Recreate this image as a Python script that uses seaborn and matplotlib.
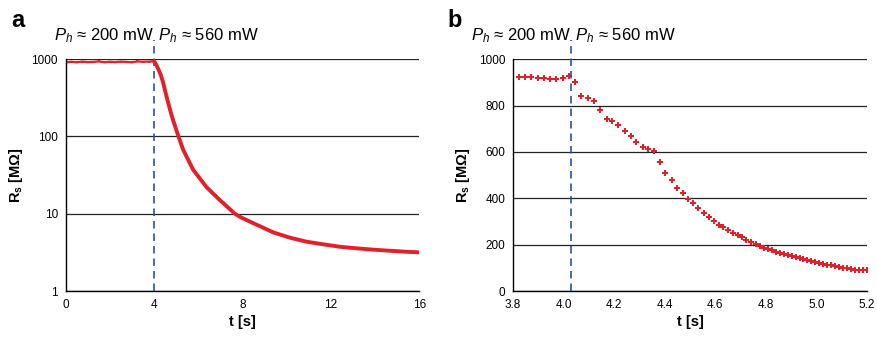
#! /usr/bin/env python3
import pandas as pd
import matplotlib
matplotlib.use("Agg")
import matplotlib.pyplot as plt
import seaborn as sns
from matplotlib.ticker import FixedLocator, FuncFormatter, NullLocator

# panel a: full heating run, log scale
t_a = [0.0, 0.25, 0.5, 0.75, 1.0, 1.25, 1.5, 1.75, 2.0, 2.25, 2.5, 2.75,
       3.0, 3.25, 3.5, 3.75, 4.0,
       4.05, 4.1, 4.2, 4.3, 4.4, 4.5, 4.6, 4.7, 4.8, 4.9, 5.0, 5.1,
       5.32, 5.77, 6.38, 6.98, 7.66, 7.89, 8.34, 9.09, 9.39, 10.15,
       10.9, 11.66, 12.41, 13.17, 13.92, 14.67, 15.43, 16.0]
r_a = [905, 925, 910, 930, 915, 920, 935, 910, 925, 915, 930, 920,
       910, 935, 925, 930, 940,
       900, 845, 735, 630, 510, 390, 300, 235, 185, 150, 123, 101,
       67, 37, 22, 15, 10, 9.1, 7.9, 6.3, 5.74, 4.9,
       4.35, 4.02, 3.74, 3.57, 3.43, 3.32, 3.22, 3.17]

# panel b: zoom around the power step, linear scale
t_b = [3.823, 3.847, 3.872, 3.898, 3.923, 3.946, 3.971, 3.997, 4.021, 4.045,
       4.070, 4.095, 4.120, 4.145, 4.171, 4.191, 4.216, 4.242, 4.265, 4.288,
       4.313, 4.334, 4.359, 4.381, 4.402, 4.428, 4.450, 4.471, 4.493, 4.512,
       4.533, 4.555, 4.574, 4.595, 4.613, 4.632, 4.650, 4.669, 4.688, 4.707,
       4.722, 4.741, 4.760, 4.777, 4.791, 4.808, 4.824, 4.840, 4.856, 4.872,
       4.887, 4.903, 4.919, 4.935, 4.948, 4.964, 4.980, 4.995, 5.009, 5.025,
       5.040, 5.056, 5.072, 5.088, 5.104, 5.119, 5.135, 5.151, 5.167, 5.183,
       5.199]
r_b = [925, 922, 921, 918, 919, 915, 915, 918, 929, 901,
       841, 831, 820, 779, 741, 733, 718, 691, 667, 644,
       622, 613, 603, 555, 510, 477, 445, 422, 398, 378,
       358, 338, 320, 303, 286, 276, 263, 251, 241, 231,
       221, 211, 203, 194, 187, 182, 175, 168, 162, 159,
       155, 150, 145, 142, 139, 132, 128, 124, 121, 116,
       113, 111, 108, 105, 100, 98, 95, 92, 92, 89,
       89]

step_a = 4.0
step_b = 4.03
xticks_a = [0, 4, 8, 12, 16]
yticks_a = [1, 10, 100, 1000]
xticks_b = [3.8, 4.0, 4.2, 4.4, 4.6, 4.8, 5.0, 5.2]
yticks_b = [0, 200, 400, 600, 800, 1000]

RED = "#e3202a"
BLUE = "#3050a0"

sns.set_style("white")
plt.rcParams["font.family"] = ["Liberation Sans", "DejaVu Sans"]
plt.rcParams["mathtext.fontset"] = "custom"
plt.rcParams["mathtext.rm"] = "Liberation Sans"
plt.rcParams["mathtext.it"] = "Liberation Sans:italic"
plt.rcParams["mathtext.bf"] = "Liberation Sans:bold"
for key in ["text.color", "axes.labelcolor", "xtick.color", "ytick.color"]:
    plt.rcParams[key] = "black"

fig = plt.figure(figsize=(8.78, 3.42), dpi=100)
ax_a = fig.add_axes([0.0748, 0.149, 0.4027, 0.678])
ax_b = fig.add_axes([0.5843, 0.149, 0.4032, 0.678])

df_a = pd.DataFrame({"t": t_a, "r": r_a})
flat = df_a[df_a["t"] <= 4.0]
decay = df_a[df_a["t"] >= 4.0]
sns.lineplot(data=flat, x="t", y="r", ax=ax_a, color=RED, lw=1.6,
             marker="s", markersize=1.5, markeredgewidth=0)
sns.lineplot(data=decay, x="t", y="r", ax=ax_a, color=RED, lw=2.8,
             solid_joinstyle="round", solid_capstyle="round")

df_b = pd.DataFrame({"t": t_b, "r": r_b})
sns.scatterplot(data=df_b, x="t", y="r", ax=ax_b, color=RED, marker="P",
                s=16, linewidth=0)

ax_a.set_yscale("log")
ax_a.set_xlim(0, 16)
ax_a.set_ylim(1, 1000)
ax_a.xaxis.set_major_locator(FixedLocator(xticks_a))
ax_a.yaxis.set_major_locator(FixedLocator(yticks_a))
ax_a.yaxis.set_minor_locator(NullLocator())
ax_a.yaxis.set_major_formatter(FuncFormatter(lambda v, p: f"{v:g}"))

ax_b.set_xlim(3.8, 5.2)
ax_b.set_ylim(0, 1000)
ax_b.xaxis.set_major_locator(FixedLocator(xticks_b))
ax_b.yaxis.set_major_locator(FixedLocator(yticks_b))
ax_b.xaxis.set_major_formatter(FuncFormatter(lambda v, p: f"{v:.1f}"))

for ax, step in [(ax_a, step_a), (ax_b, step_b)]:
    ax.yaxis.grid(True, color="#222222", lw=0.9)
    ax.xaxis.grid(False)
    ax.set_axisbelow(True)
    for side in ["top", "right"]:
        ax.spines[side].set_visible(False)
    for side in ["left", "bottom"]:
        ax.spines[side].set_color("black")
        ax.spines[side].set_linewidth(1.0)
    ax.tick_params(axis="both", direction="out", length=3.5, width=0.9,
                   labelsize=8.5, colors="black", pad=2)
    ax.set_xlabel("t [s]", fontsize=10.5, fontweight="bold", labelpad=3)
    ax.set_ylabel(r"$\mathbf{R_s}$ [MΩ]", fontsize=10.5, fontweight="bold",
                  labelpad=5)
    ax.axvline(step, ymin=0, ymax=1.082, color=BLUE, lw=1.2,
               ls=(0, (4.5, 3)), clip_on=False, zorder=1)
    tr = ax.get_xaxis_transform()
    ax.text(step, 1.08, r"$P_h$ ≈ 200 mW ", transform=tr, ha="right",
            va="baseline", fontsize=12)
    ax.text(step, 1.08, r" $P_h$ ≈ 560 mW", transform=tr, ha="left",
            va="baseline", fontsize=12)

fig.text(0.013, 0.92, "a", fontsize=17, fontweight="bold")
fig.text(0.51, 0.92, "b", fontsize=17, fontweight="bold")

fig.savefig("out.png", dpi=100)
